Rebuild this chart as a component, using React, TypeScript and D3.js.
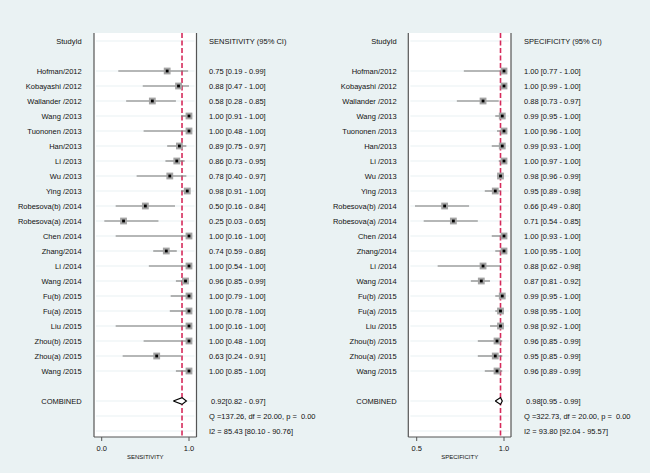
import * as d3 from 'd3';
import React from 'react';

const studies = [
  'Hofman/2012', 'Kobayashi /2012', 'Wallander /2012', 'Wang /2013', 'Tuononen /2013',
  'Han/2013', 'Li /2013', 'Wu /2013', 'Ying /2013', 'Robesova(b) /2014',
  'Robesova(a) /2014', 'Chen /2014', 'Zhang/2014', 'Li /2014', 'Wang /2014',
  'Fu(b) /2015', 'Fu(a) /2015', 'Liu /2015', 'Zhou(b) /2015', 'Zhou(a) /2015', 'Wang /2015',
];

const sensEst = [0.75, 0.88, 0.58, 1.0, 1.0, 0.89, 0.86, 0.78, 0.98, 0.5, 0.25, 1.0, 0.74, 1.0, 0.96, 1.0, 1.0, 1.0, 1.0, 0.63, 1.0];
const sensLo = [0.19, 0.47, 0.28, 0.91, 0.48, 0.75, 0.73, 0.4, 0.91, 0.16, 0.03, 0.16, 0.59, 0.54, 0.85, 0.79, 0.78, 0.16, 0.48, 0.24, 0.85];
const sensHi = [0.99, 1.0, 0.85, 1.0, 1.0, 0.97, 0.95, 0.97, 1.0, 0.84, 0.65, 1.0, 0.86, 1.0, 0.99, 1.0, 1.0, 1.0, 1.0, 0.91, 1.0];

const specEst = [1.0, 1.0, 0.88, 0.99, 1.0, 0.99, 1.0, 0.98, 0.95, 0.66, 0.71, 1.0, 1.0, 0.88, 0.87, 0.99, 0.98, 0.98, 0.96, 0.95, 0.96];
const specLo = [0.77, 0.99, 0.73, 0.95, 0.96, 0.93, 0.97, 0.96, 0.89, 0.49, 0.54, 0.93, 0.95, 0.62, 0.81, 0.95, 0.95, 0.92, 0.85, 0.85, 0.89];
const specHi = [1.0, 1.0, 0.97, 1.0, 1.0, 1.0, 1.0, 0.99, 0.98, 0.8, 0.85, 1.0, 1.0, 0.98, 0.92, 1.0, 1.0, 1.0, 0.99, 0.99, 0.99];

const sensCombined = [0.92, 0.82, 0.97];
const specCombined = [0.98, 0.95, 0.99];
const sensStats = ['Q =137.26, df = 20.00, p =  0.00', 'I2 = 85.43 [80.10 - 90.76]'];
const specStats = ['Q =322.73, df = 20.00, p =  0.00', 'I2 = 93.80 [92.04 - 95.57]'];

const BG = '#eaf2f3';
const FONT = "'Liberation Sans', Arial, sans-serif";
const f2 = d3.format('.2f');

// rows: -2 header, 0..20 studies, 22 combined, 23 Q, 24 I2
const y = d3.scaleLinear().domain([-2, 24]).range([41, 431]);
const panelTop = 33;
const panelBottom = 437;

const Panel = ({ name, title, est, lo, hi, combined, stats, x, px0, px1, ticks, labelX, valueX }: any) => {
  const rowsWithLines = [-2, ...d3.range(studies.length), 22, 23, 24];
  const cy = y(22);
  const [ce, cl, ch] = combined;
  const diamond = d3.line()([
    [x(cl), cy], [x(ce), cy - 3.4], [x(ch), cy], [x(ce), cy + 3.4], [x(cl), cy],
  ]);
  return (
    <g>
      <rect x={px0} y={panelTop} width={px1 - px0} height={panelBottom - panelTop} fill="white" />
      {rowsWithLines.map((r) => (
        <line key={r} x1={px0 + 2} x2={px1 - 2} y1={y(r)} y2={y(r)} stroke={BG} strokeWidth={1.2} />
      ))}
      <line x1={x(ce)} x2={x(ce)} y1={panelTop} y2={panelBottom} stroke="#d62a5b" strokeWidth={1.6} strokeDasharray="5,2.5" />
      {studies.map((s: string, i: number) => (
        <g key={i}>
          <line x1={x(lo[i])} x2={x(hi[i])} y1={y(i)} y2={y(i)} stroke="#777" strokeWidth={1.1} />
          <rect x={x(est[i]) - 3.4} y={y(i) - 3.4} width={6.8} height={6.8} fill="#a3a3a3" />
          <rect x={x(est[i]) - 1.4} y={y(i) - 1.4} width={2.8} height={2.8} fill="#000" />
        </g>
      ))}
      <path d={diamond || ''} fill="white" stroke="#000" strokeWidth={1.2} />
      <line x1={px0} x2={px0} y1={panelTop} y2={panelBottom} stroke="#555" strokeWidth={1.2} />
      <line x1={px1} x2={px1} y1={panelTop} y2={panelBottom} stroke="#555" strokeWidth={1.2} />
      <line x1={px0} x2={px1} y1={panelBottom} y2={panelBottom} stroke="#555" strokeWidth={1.2} />
      {ticks.map((t: number) => (
        <g key={t}>
          <line x1={x(t)} x2={x(t)} y1={panelBottom} y2={panelBottom + 4} stroke="#555" strokeWidth={1} />
          <text x={x(t)} y={451} textAnchor="middle" fontSize={7.5}>{d3.format('.1f')(t)}</text>
        </g>
      ))}
      <text x={(px0 + px1) / 2} y={458.5} textAnchor="middle" fontSize={6}>{name}</text>
      <text x={labelX} y={y(-2)} dy="0.35em" textAnchor="end" fontSize={7.5}>StudyId</text>
      <text x={valueX} y={y(-2)} dy="0.35em" fontSize={7.5}>{title}</text>
      {studies.map((s: string, i: number) => (
        <g key={'t' + i}>
          <text x={labelX} y={y(i)} dy="0.35em" textAnchor="end" fontSize={7.5}>{s}</text>
          <text x={valueX} y={y(i)} dy="0.35em" fontSize={7.5}>
            {`${f2(est[i])} [${f2(lo[i])} - ${f2(hi[i])}]`}
          </text>
        </g>
      ))}
      <text x={labelX} y={y(22)} dy="0.35em" textAnchor="end" fontSize={7.5}>COMBINED</text>
      <text x={valueX + 2} y={y(22)} dy="0.35em" fontSize={7.5}>{`${f2(ce)}[${f2(cl)} - ${f2(ch)}]`}</text>
      <text x={valueX} y={y(23)} dy="0.35em" fontSize={7.5} style={{ whiteSpace: 'pre' }}>{stats[0]}</text>
      <text x={valueX} y={y(24)} dy="0.35em" fontSize={7.5}>{stats[1]}</text>
    </g>
  );
};

export default function App() {
  const xSens = d3.scaleLinear().domain([0, 1]).range([101.7, 189]);
  const xSpec = d3.scaleLinear().domain([0.5, 1]).range([416.7, 504]);
  return (
    <svg width={650} height={473} style={{ position: 'absolute', left: 0, top: 0, fontFamily: FONT }} fill="#111">
      <rect width={650} height={473} fill={BG} />
      <Panel
        name="SENSITIVITY" title="SENSITIVITY (95% CI)"
        est={sensEst} lo={sensLo} hi={sensHi} combined={sensCombined} stats={sensStats}
        x={xSens} px0={94} px1={196.5} ticks={[0, 1]} labelX={81.7} valueX={209}
      />
      <Panel
        name="SPECIFICITY" title="SPECIFICITY (95% CI)"
        est={specEst} lo={specLo} hi={specHi} combined={specCombined} stats={specStats}
        x={xSpec} px0={408.3} px1={511} ticks={[0.5, 1]} labelX={396.7} valueX={524}
      />
    </svg>
  );
}
